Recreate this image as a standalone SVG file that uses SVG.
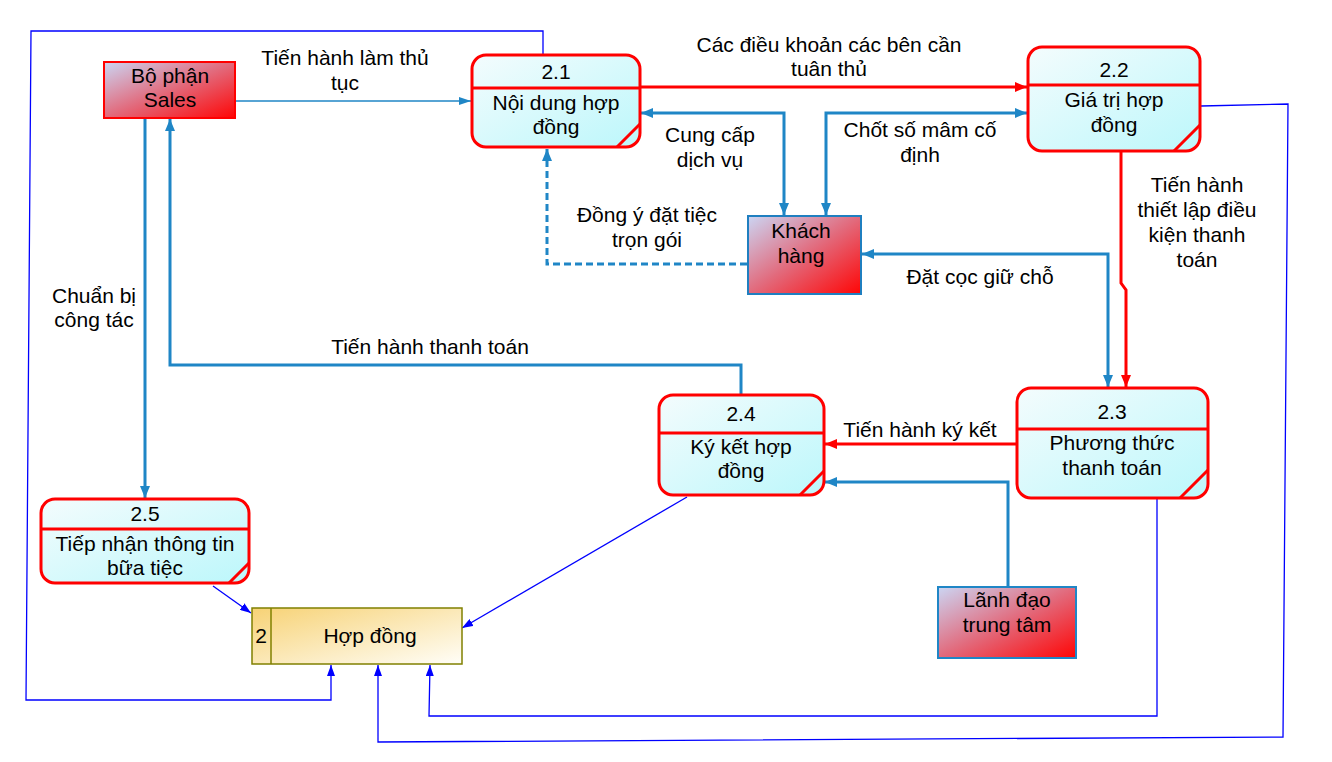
<svg xmlns="http://www.w3.org/2000/svg" width="1332" height="762" viewBox="0 0 1332 762">
<defs>
<linearGradient id="gProc" x1="0" y1="0" x2="1" y2="1">
<stop offset="0" stop-color="#f4fcfd"/>
<stop offset="1" stop-color="#bcf7fb"/>
</linearGradient>
<linearGradient id="gEnt" x1="0" y1="0" x2="1" y2="1">
<stop offset="0" stop-color="#cbd6f4"/>
<stop offset="0.5" stop-color="#e26a7c"/>
<stop offset="1" stop-color="#ff0505"/>
</linearGradient>
<linearGradient id="gStore" x1="0" y1="0" x2="1" y2="1">
<stop offset="0" stop-color="#f7d275"/>
<stop offset="1" stop-color="#fffef8"/>
</linearGradient>
<marker id="ab" viewBox="0 0 12 10" refX="12" refY="5" markerWidth="12" markerHeight="10" markerUnits="userSpaceOnUse" orient="auto-start-reverse"><path d="M0,0 L12,5 L0,10 Z" fill="#1f86c6"/></marker>
<marker id="ar" viewBox="0 0 12 10" refX="12" refY="5" markerWidth="12" markerHeight="10" markerUnits="userSpaceOnUse" orient="auto-start-reverse"><path d="M0,0 L12,5 L0,10 Z" fill="#ff0000"/></marker>
<marker id="at" viewBox="0 0 11 8" refX="11" refY="4" markerWidth="11" markerHeight="8" markerUnits="userSpaceOnUse" orient="auto-start-reverse"><path d="M0,0 L11,4 L0,8 Z" fill="#0000ff"/></marker>
<marker id="atl" viewBox="0 0 12 8" refX="12" refY="4" markerWidth="12" markerHeight="8" markerUnits="userSpaceOnUse" orient="auto-start-reverse"><path d="M0,0 L12,4 L0,8 Z" fill="#1f86c6"/></marker>
</defs>
<style>
text{font-family:"Liberation Sans",Arial,sans-serif;font-size:21px;fill:#000;text-anchor:middle}
.proc{fill:url(#gProc);stroke:#ff0000;stroke-width:3}
.pl{stroke:#ff0000;stroke-width:3;fill:none}
.ent{fill:url(#gEnt);stroke-width:2}
.cb{fill:none;stroke:#1f86c6;stroke-width:3}
.cr{fill:none;stroke:#ff0000;stroke-width:3}
.ct{fill:none;stroke:#0000ff;stroke-width:1.3}
</style>

<g id="connectors">
<path class="ct" d="M235,101 L471,101" style="stroke:#1f86c6" marker-end="url(#atl)"/>
<path class="cr" d="M640,87 L1027,87" marker-end="url(#ar)"/>
<path class="cb" d="M641,113 L784,113 L784,215" marker-start="url(#ab)" marker-end="url(#ab)"/>
<path class="cb" d="M1027,113 L826,113 L826,215" marker-start="url(#ab)" marker-end="url(#ab)"/>
<path class="cb" d="M747,264 L547,264 L547,149" stroke-dasharray="7,4" marker-end="url(#ab)"/>
<path class="cb" d="M862,254 L1108,254 L1108,387" marker-start="url(#ab)" marker-end="url(#ab)"/>
<path class="cr" d="M1121,152 L1121,283 L1126,290 L1126,387" marker-end="url(#ar)"/>
<path class="cr" d="M1016,444 L825,444" marker-end="url(#ar)"/>
<path class="cb" d="M1008,587 L1008,482 L825,482" marker-end="url(#ab)"/>
<path class="cb" d="M741,395 L741,365 L170,365 L170,119" marker-end="url(#ab)"/>
<path class="cb" d="M145,119 L145,498" marker-end="url(#ab)"/>
<path class="ct" d="M213,586 L251,613" marker-end="url(#at)"/>
<path class="ct" d="M687,497 L462,628" marker-end="url(#at)"/>
<path class="ct" d="M543,54 L543,31 L31,31 L26,700 L331,700 L331,665" marker-end="url(#at)"/>
<path class="ct" d="M1157,498 L1157,716 L429,716 L430,665" marker-end="url(#at)"/>
<path class="ct" d="M1201,106 L1288,104 L1283,737 L378,742 L378,665" marker-end="url(#at)"/>
<text x="345" y="65">Tiến hành làm thủ</text>
<text x="345" y="90">tục</text>
<text x="829" y="52">Các điều khoản các bên cần</text>
<text x="829" y="76">tuân thủ</text>
<text x="710" y="142">Cung cấp</text>
<text x="710" y="167">dịch vụ</text>
<text x="920" y="137">Chốt số mâm cố</text>
<text x="920" y="162">định</text>
<text x="647" y="222">Đồng ý đặt tiệc</text>
<text x="647" y="247">trọn gói</text>
<text x="980" y="284">Đặt cọc giữ chỗ</text>
<text x="1197" y="192">Tiến hành</text>
<text x="1197" y="217">thiết lập điều</text>
<text x="1197" y="242">kiện thanh</text>
<text x="1197" y="267">toán</text>
<text x="920" y="437">Tiến hành ký kết</text>
<text x="430" y="354">Tiến hành thanh toán</text>
<text x="94" y="303">Chuẩn bị</text>
<text x="94" y="327">công tác</text>
</g>

<g id="sales">
<rect class="ent" x="104" y="62" width="131" height="56" stroke="#ff0000" stroke-width="3"/>
<text x="170" y="83">Bộ phận</text>
<text x="170" y="107">Sales</text>
</g>

<g id="khachhang">
<rect class="ent" x="748" y="216" width="113" height="78" stroke="#1f7fc0"/>
<text x="801" y="238">Khách</text>
<text x="801" y="263">hàng</text>
</g>

<g id="lanhdao">
<rect class="ent" x="938" y="587" width="138" height="71" stroke="#1f86c6"/>
<text x="1007" y="607">Lãnh đạo</text>
<text x="1007" y="632">trung tâm</text>
</g>

<g id="p21">
<rect class="proc" x="472" y="55" width="168" height="92" rx="14"/>
<path class="pl" d="M472,88 L640,88 M617,147 L640,124"/>
<text x="556" y="79">2.1</text>
<text x="556" y="110">Nội dung hợp</text>
<text x="556" y="134">đồng</text>
</g>

<g id="p22">
<rect class="proc" x="1028" y="47" width="172" height="104" rx="14"/>
<path class="pl" d="M1028,85 L1200,85 M1174,151 L1200,125"/>
<text x="1114" y="77">2.2</text>
<text x="1114" y="107">Giá trị hợp</text>
<text x="1114" y="132">đồng</text>
</g>

<g id="p23">
<rect class="proc" x="1017" y="388" width="191" height="110" rx="14"/>
<path class="pl" d="M1017,429 L1208,429 M1180,498 L1208,470"/>
<text x="1112" y="419">2.3</text>
<text x="1112" y="450">Phương thức</text>
<text x="1112" y="475">thanh toán</text>
</g>

<g id="p24">
<rect class="proc" x="659" y="395" width="165" height="100" rx="14"/>
<path class="pl" d="M659,433 L824,433 M800,495 L824,471"/>
<text x="741" y="421">2.4</text>
<text x="741" y="454">Ký kết hợp</text>
<text x="741" y="478">đồng</text>
</g>

<g id="p25">
<rect class="proc" x="41" y="499" width="208" height="84" rx="14"/>
<path class="pl" d="M41,529 L249,529 M229,583 L249,563"/>
<text x="145" y="521">2.5</text>
<text x="145" y="551">Tiếp nhận thông tin</text>
<text x="145" y="575">bữa tiệc</text>
</g>

<g id="hopdong">
<rect x="252" y="608" width="210" height="56" fill="url(#gStore)" stroke="#808000" stroke-width="1.5"/>
<line x1="271" y1="608" x2="271" y2="664" stroke="#808000" stroke-width="1.5"/>
<text x="261" y="643">2</text>
<text x="370" y="643">Hợp đồng</text>
</g>
</svg>
